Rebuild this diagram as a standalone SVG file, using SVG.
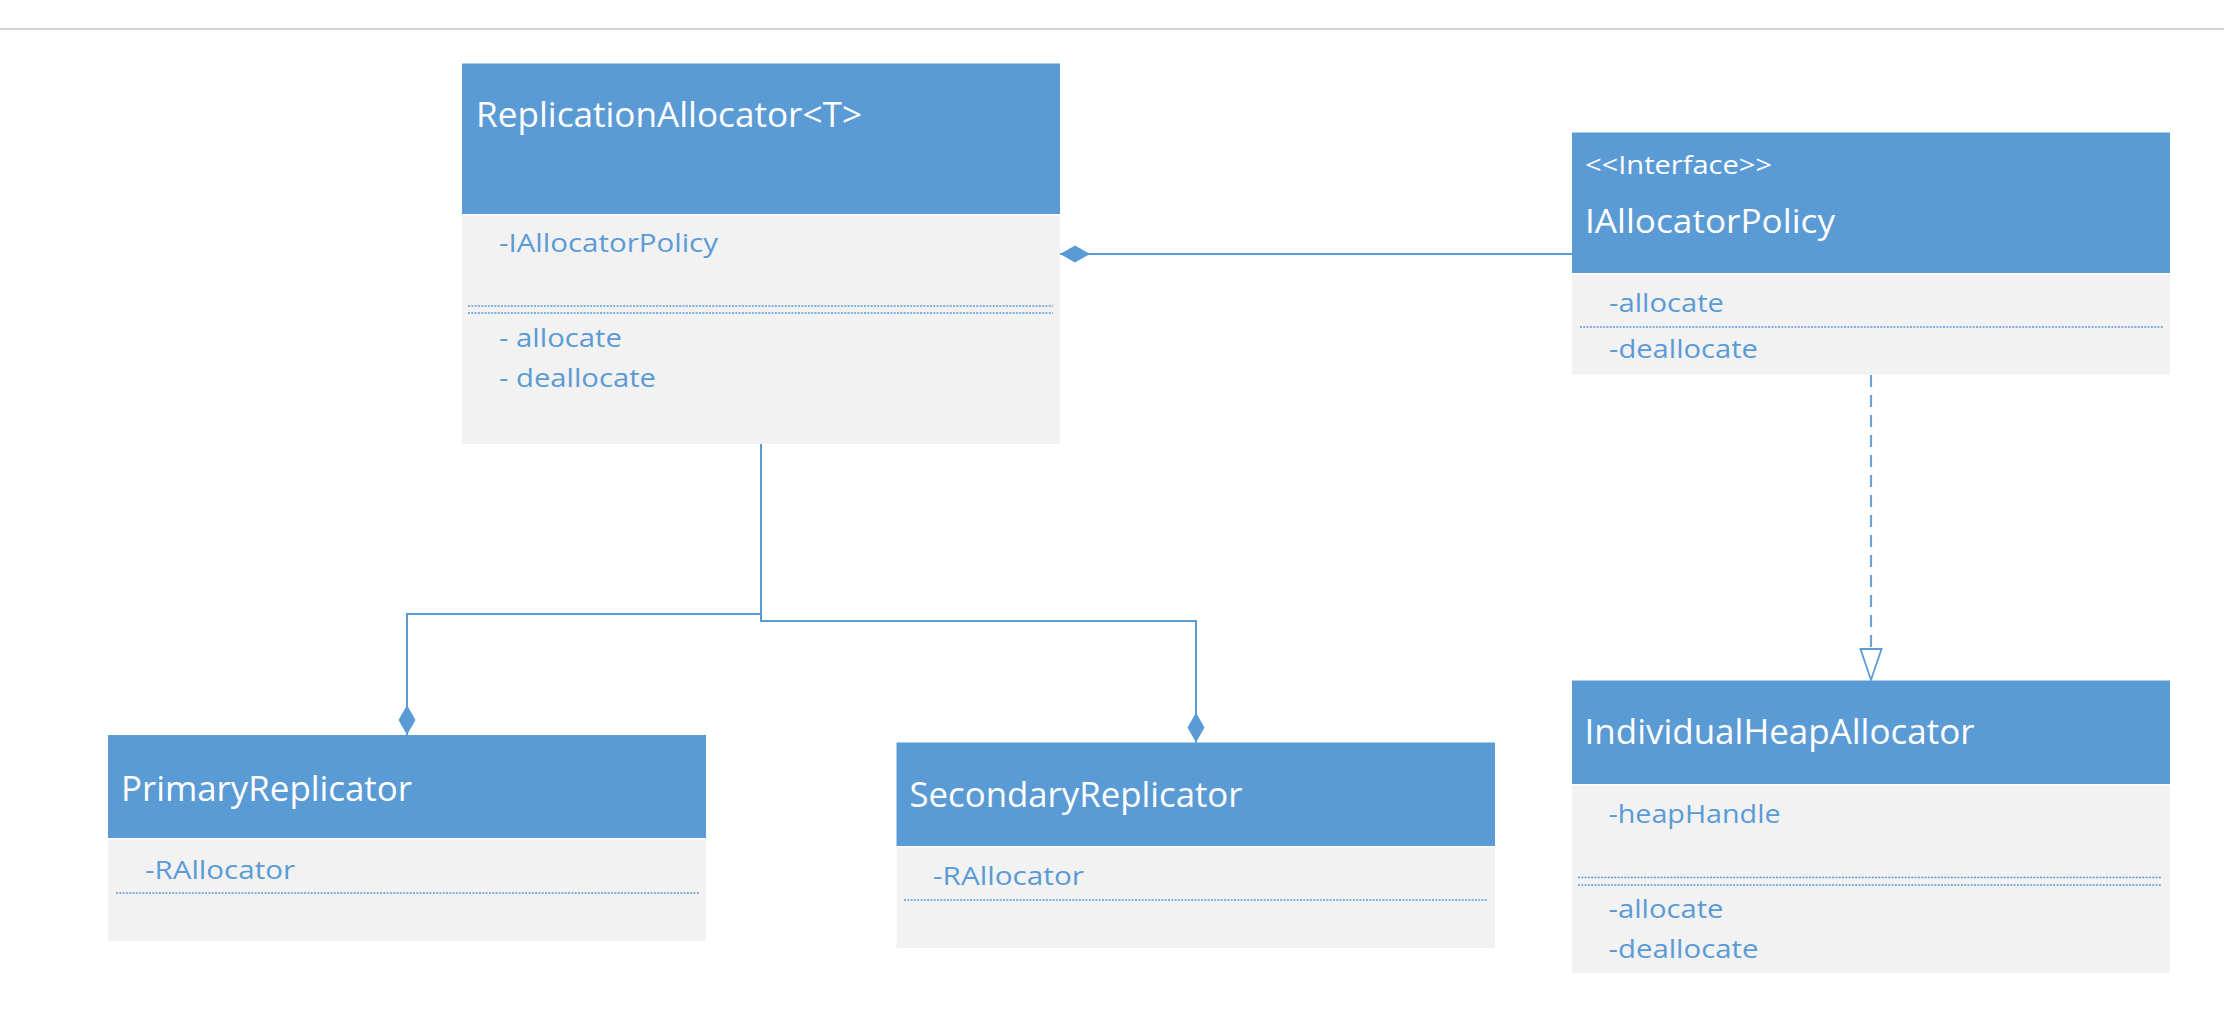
<svg xmlns="http://www.w3.org/2000/svg" width="2224" height="1030" viewBox="0 0 2224 1030">
<defs>
<style>
.bg{fill:#ffffff}
.hdr{fill:#5B9BD5}
.body{fill:#F2F2F2}
.sep{stroke:#ffffff;stroke-width:2}
.title{font-family:"Open Sans","Noto Sans","DejaVu Sans",sans-serif;font-size:35px;fill:#ffffff}
.stereo{font-family:"Open Sans","Noto Sans","DejaVu Sans",sans-serif;font-size:25px;fill:#ffffff}
.mem{font-family:"Open Sans","Noto Sans","DejaVu Sans",sans-serif;font-size:26px;fill:#5B9BD5}
.dot{stroke:#5B9BD5;stroke-width:1.4;stroke-dasharray:2 1.3;fill:none}
.conn{stroke:#5B9BD5;stroke-width:2;fill:none}
.dash{stroke:#6FA3D8;stroke-width:2.2;stroke-dasharray:12 8;fill:none}
</style>
<marker id="diamond" markerUnits="userSpaceOnUse" markerWidth="32" markerHeight="20" viewBox="0 -10 32 20" refX="30" refY="0" orient="auto" overflow="visible">
<path d="M0,0 L15,-8.5 L30,0 L15,8.5 Z" fill="#5B9BD5" stroke="none"/>
</marker>
<marker id="triangle" markerUnits="userSpaceOnUse" markerWidth="34" markerHeight="24" viewBox="0 -12 34 24" refX="31" refY="0" orient="auto" overflow="visible">
<path d="M0,-10.5 L31,0 L0,10.5 Z" fill="#ffffff" stroke="#5B9BD5" stroke-width="1.8" stroke-linejoin="miter"/>
</marker>
</defs>
<rect class="bg" x="0" y="0" width="2224" height="1030"/>
<line x1="0" y1="29" x2="2224" y2="29" stroke="#C4C4C4" stroke-width="1.5"/>

<g id="connectors">
<path class="conn" d="M1572,254 L1060,254" marker-end="url(#diamond)"/>
<path class="conn" d="M761,444 L761,614 L407,614 L407,735" marker-end="url(#diamond)"/>
<path class="conn" d="M761,614 L761,621 L1196,621 L1196,742.5" marker-end="url(#diamond)"/>
<path class="dash" d="M1871,375 L1871,648"/>
<path d="M1871,640 L1871,680" stroke="none" fill="none" marker-end="url(#triangle)"/>
</g>

<g id="ReplicationAllocator">
<rect class="hdr" x="462" y="63.5" width="598" height="150.5"/>
<rect class="body" x="462" y="215.5" width="598" height="228.5"/>
<text class="title" x="476" y="127" textLength="386" lengthAdjust="spacingAndGlyphs">ReplicationAllocator&lt;T&gt;</text>
<text class="mem" x="499" y="252" textLength="219" lengthAdjust="spacingAndGlyphs">-IAllocatorPolicy</text>
<line class="dot" x1="468" y1="306" x2="1053" y2="306"/>
<line class="dot" x1="468" y1="313" x2="1053" y2="313"/>
<text class="mem" x="499" y="347" textLength="123" lengthAdjust="spacingAndGlyphs">- allocate</text>
<text class="mem" x="499" y="387" textLength="157" lengthAdjust="spacingAndGlyphs">- deallocate</text>
</g>

<g id="IAllocatorPolicy">
<rect class="hdr" x="1572" y="132.5" width="598" height="140.5"/>
<rect class="body" x="1572" y="274.5" width="598" height="100"/>
<text class="stereo" x="1585" y="174" textLength="187" lengthAdjust="spacingAndGlyphs">&lt;&lt;Interface&gt;&gt;</text>
<text class="title" x="1585" y="233" font-size="33" style="font-size:33px" textLength="250" lengthAdjust="spacingAndGlyphs">IAllocatorPolicy</text>
<text class="mem" x="1609" y="312" textLength="115" lengthAdjust="spacingAndGlyphs">-allocate</text>
<line class="dot" x1="1580" y1="327" x2="2163" y2="327"/>
<text class="mem" x="1609" y="358" textLength="149" lengthAdjust="spacingAndGlyphs">-deallocate</text>
</g>

<g id="PrimaryReplicator">
<rect class="hdr" x="108" y="735" width="598" height="103"/>
<rect class="body" x="108" y="839.5" width="598" height="101.5"/>
<text class="title" x="121" y="801" textLength="291" lengthAdjust="spacingAndGlyphs">PrimaryReplicator</text>
<text class="mem" x="145" y="879" textLength="150" lengthAdjust="spacingAndGlyphs">-RAllocator</text>
<line class="dot" x1="116" y1="893" x2="699" y2="893"/>
</g>

<g id="SecondaryReplicator">
<rect class="hdr" x="896.5" y="742.5" width="598.5" height="103.5"/>
<rect class="body" x="896.5" y="847.5" width="598.5" height="100.5"/>
<text class="title" x="909.5" y="807" textLength="333" lengthAdjust="spacingAndGlyphs">SecondaryReplicator</text>
<text class="mem" x="933" y="885" textLength="151" lengthAdjust="spacingAndGlyphs">-RAllocator</text>
<line class="dot" x1="904" y1="900" x2="1488" y2="900"/>
</g>

<g id="IndividualHeapAllocator">
<rect class="hdr" x="1572" y="680.5" width="598" height="103.5"/>
<rect class="body" x="1572" y="785.5" width="598" height="187.5"/>
<text class="title" x="1584.5" y="744" textLength="390" lengthAdjust="spacingAndGlyphs">IndividualHeapAllocator</text>
<text class="mem" x="1608.5" y="823" textLength="172" lengthAdjust="spacingAndGlyphs">-heapHandle</text>
<line class="dot" x1="1578" y1="877.5" x2="2162" y2="877.5"/>
<line class="dot" x1="1578" y1="885" x2="2162" y2="885"/>
<text class="mem" x="1608.5" y="918" textLength="115" lengthAdjust="spacingAndGlyphs">-allocate</text>
<text class="mem" x="1608.5" y="958" textLength="150" lengthAdjust="spacingAndGlyphs">-deallocate</text>
</g>
</svg>
